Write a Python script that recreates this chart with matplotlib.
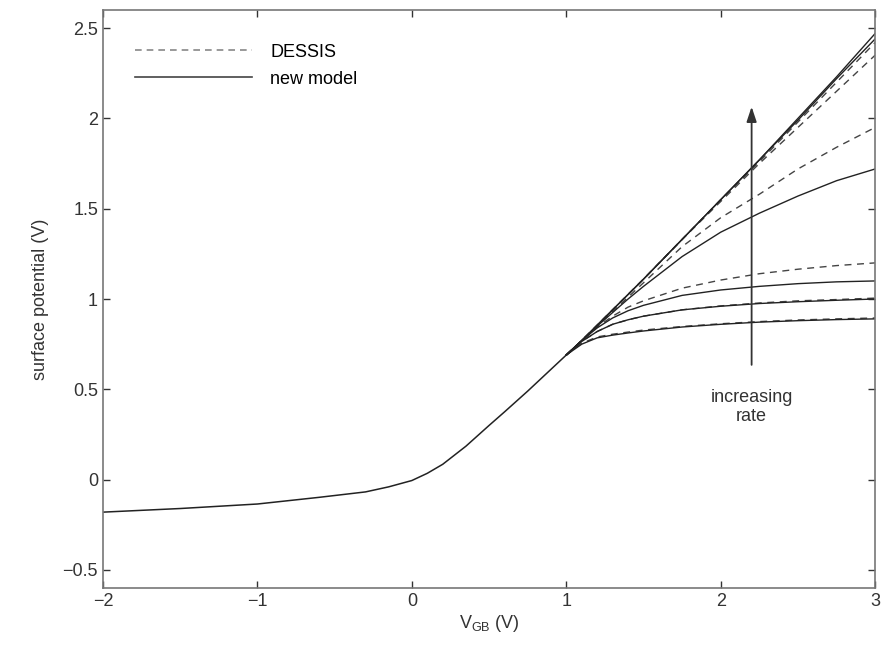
import matplotlib
matplotlib.use('Agg')
from matplotlib import pyplot as plt

plt.rcParams['font.family'] = ['Liberation Sans', 'DejaVu Sans']
plt.rcParams['mathtext.default'] = 'regular'

# shared part of all curves (accumulation / depletion)
x_common = [-2.0, -1.5, -1.0, -0.6, -0.3, -0.15, 0.0, 0.1, 0.2, 0.35, 0.5,
            0.6, 0.75, 0.9, 1.0]
y_common = [-0.18, -0.16, -0.135, -0.098, -0.068, -0.04, -0.005, 0.035,
            0.085, 0.185, 0.30, 0.375, 0.49, 0.61, 0.69]

# branches for the different rates
x_branch = [1.0, 1.1, 1.2, 1.3, 1.4, 1.5, 1.75, 2.0, 2.25, 2.5, 2.75, 3.0]
dessis = [
    [0.69, 0.755, 0.79, 0.805, 0.817, 0.828, 0.848, 0.863, 0.875, 0.884, 0.89, 0.895],
    [0.69, 0.765, 0.82, 0.86, 0.885, 0.905, 0.94, 0.962, 0.978, 0.99, 0.997, 1.005],
    [0.69, 0.77, 0.845, 0.905, 0.955, 0.99, 1.06, 1.105, 1.14, 1.165, 1.185, 1.20],
    [0.69, 0.77, 0.85, 0.93, 1.01, 1.09, 1.29, 1.45, 1.58, 1.72, 1.84, 1.95],
    [0.69, 0.77, 0.855, 0.94, 1.025, 1.11, 1.33, 1.54, 1.75, 1.95, 2.15, 2.35],
    [0.69, 0.77, 0.855, 0.94, 1.025, 1.11, 1.33, 1.55, 1.76, 1.98, 2.20, 2.42],
]
model = [
    [0.69, 0.75, 0.785, 0.80, 0.812, 0.823, 0.845, 0.86, 0.872, 0.88, 0.886, 0.89],
    [0.69, 0.765, 0.82, 0.86, 0.885, 0.905, 0.94, 0.96, 0.975, 0.985, 0.993, 1.0],
    [0.69, 0.77, 0.84, 0.895, 0.935, 0.965, 1.02, 1.05, 1.07, 1.085, 1.095, 1.10],
    [0.69, 0.77, 0.85, 0.925, 1.0, 1.07, 1.235, 1.37, 1.475, 1.57, 1.655, 1.72],
    [0.69, 0.77, 0.855, 0.94, 1.025, 1.11, 1.33, 1.55, 1.77, 1.99, 2.22, 2.44],
    [0.69, 0.77, 0.855, 0.94, 1.025, 1.11, 1.33, 1.55, 1.77, 2.00, 2.23, 2.47],
]

fig = plt.figure(figsize=(8.84, 6.55), dpi=100)
ax = fig.add_axes([0.1165, 0.1023, 0.8735, 0.8824])

ax.plot(x_common, y_common, color='#222222', lw=1.1)
for d in dessis:
    ax.plot(x_branch, d, color='#444444', lw=1.0, ls=(0, (5, 4)))
for m in model:
    ax.plot(x_branch, m, color='#222222', lw=1.0)

# legend entries
ax.plot([], [], color='#888888', lw=1.2, ls=(0, (4, 3)), label='DESSIS')
ax.plot([], [], color='#444444', lw=1.2, label='new model')
handles, labels = ax.get_legend_handles_labels()
ax.legend(handles[-2:], labels[-2:], loc='upper left', frameon=False,
          fontsize=13, handlelength=6.5, handletextpad=1.0, labelspacing=0.55,
          bbox_to_anchor=(0.02, 0.97))

# increasing rate arrow
ax.annotate('', xy=(2.2, 2.08), xytext=(2.2, 0.62),
            arrowprops=dict(arrowstyle='-|>,head_length=0.9,head_width=0.3',
                            color='#333333', lw=1.3))
ax.text(2.2, 0.40, 'increasing\nrate', ha='center', va='center',
        fontsize=13, color='#333333', linespacing=1.15)

ax.set_xlim(-2, 3)
ax.set_ylim(-0.6, 2.6)
ax.set_xticks([-2, -1, 0, 1, 2, 3])
ax.set_yticks([-0.5, 0, 0.5, 1, 1.5, 2, 2.5])
ax.set_yticklabels(['\u22120.5', '0', '0.5', '1', '1.5', '2', '2.5'])
ax.set_xticklabels(['\u22122', '\u22121', '0', '1', '2', '3'])
ax.tick_params(direction='in', top=True, right=True, length=5,
               labelsize=13, colors='#333333', width=1)
for s in ax.spines.values():
    s.set_color('#777777')
    s.set_linewidth(1.2)

ax.set_xlabel('V$_{GB}$ (V)', fontsize=13, color='#333333', labelpad=2)
ax.set_ylabel('surface potential (V)', fontsize=13, color='#333333', labelpad=10)

plt.savefig('out.png', dpi=100)
